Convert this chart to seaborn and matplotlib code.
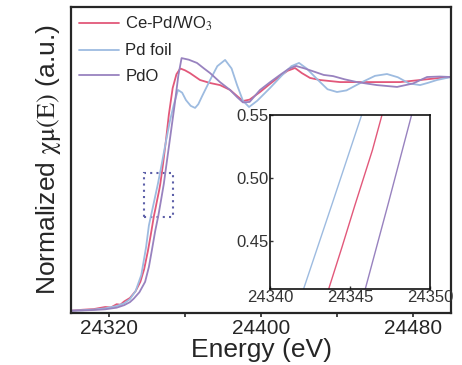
import matplotlib
matplotlib.use("Agg")
import matplotlib.pyplot as plt
import seaborn as sns
import pandas as pd
from matplotlib.patches import Rectangle

# readings from the reference (energy in eV, normalized absorption)
e_cepd = [24300, 24306, 24312, 24318, 24321, 24324, 24326, 24328, 24331, 24334,
          24336.5, 24338.5, 24340.5, 24342, 24343.65, 24344.5, 24345.3, 24345.9,
          24346.4, 24347.0, 24348.5, 24350, 24351.5, 24353.5, 24355.5, 24357.5,
          24360, 24362.6, 24367.9, 24373.2, 24378.4, 24383.7, 24387.5, 24390.5,
          24394, 24399.5, 24405, 24410, 24414, 24417.9, 24421.5, 24425.8, 24431,
          24441.6, 24452.1, 24462.6, 24473.2, 24483.7, 24494.2, 24500]
mu_cepd = [0.000, 0.004, 0.007, 0.016, 0.014, 0.028, 0.026, 0.040, 0.055, 0.085,
           0.125, 0.180, 0.260, 0.330, 0.411, 0.445, 0.478, 0.502,
           0.522, 0.550, 0.640, 0.740, 0.850, 0.965, 1.025, 1.050,
           1.042, 1.030, 1.000, 0.987, 0.978, 0.957, 0.930, 0.909,
           0.915, 0.948, 0.985, 1.017, 1.040, 1.052, 1.030, 1.009, 1.000,
           0.991, 0.991, 0.991, 0.991, 1.000, 1.009, 1.013]

e_foil = [24300, 24306, 24312, 24318, 24324, 24328, 24331, 24334, 24337, 24339.5,
          24341.0, 24342.08, 24343.9, 24345.73, 24347.5, 24350, 24352, 24354, 24356.3,
          24358.5, 24360.5, 24363, 24365.3, 24367, 24369, 24373.2, 24377, 24381.1,
          24384.5, 24387.4, 24390.5, 24393.7, 24398, 24404.7, 24411, 24416, 24420,
          24424, 24430, 24435, 24440, 24445, 24453.2, 24460, 24466.3, 24472, 24478,
          24483.7, 24488, 24492.6, 24500]
mu_foil = [0.000, 0.002, 0.005, 0.010, 0.020, 0.032, 0.050, 0.085, 0.155, 0.275,
           0.370, 0.411, 0.480, 0.550, 0.625, 0.735, 0.820, 0.890, 0.957,
           0.945, 0.913, 0.888, 0.879, 0.895, 0.930, 1.000, 1.060, 1.087,
           1.050, 0.978, 0.910, 0.883, 0.910, 0.965, 1.020, 1.060, 1.074,
           1.050, 1.000, 0.960, 0.948, 0.955, 0.991, 1.018, 1.026, 1.012, 0.985,
           0.978, 0.988, 1.000, 1.013]

e_pdo = [24300, 24306, 24312, 24318, 24324, 24328, 24331, 24333, 24336, 24339,
         24341, 24342.6, 24344.3, 24345.94, 24347.4, 24348.85, 24350.5, 24352.5,
         24354.5, 24356.5, 24358.2, 24362, 24366.3, 24370, 24373.2, 24378.4, 24383.7,
         24387.5, 24390.5, 24394, 24399.5, 24405, 24410, 24414.5, 24418.4, 24423,
         24428.4, 24433, 24437.9, 24444, 24450.5, 24461, 24471.6, 24480, 24487.4,
         24494, 24500]
mu_pdo = [0.000, 0.001, 0.003, 0.006, 0.013, 0.024, 0.037, 0.052, 0.080, 0.125,
          0.190, 0.264, 0.345, 0.411, 0.480, 0.550, 0.650, 0.770,
          0.890, 1.020, 1.095, 1.088, 1.074, 1.050, 1.030, 0.991, 0.957,
          0.925, 0.903, 0.905, 0.957, 0.992, 1.022, 1.048, 1.061, 1.050,
          1.035, 1.022, 1.017, 1.003, 0.991, 0.978, 0.970, 0.985, 1.013,
          1.015, 1.013]

samples = ["Ce-Pd/WO$_3$", "Pd foil", "PdO"]
colors = {"Ce-Pd/WO$_3$": "#e2587a", "Pd foil": "#9dbbe0", "PdO": "#9882bf"}

# zoom window marked on the main plot
box_e = (24338.4, 24353.7)
box_mu = (0.407, 0.597)

frames = []
for name, e, mu in zip(samples, [e_cepd, e_foil, e_pdo], [mu_cepd, mu_foil, mu_pdo]):
    frames.append(pd.DataFrame({"energy": e, "mu": mu, "sample": name}))
df = pd.concat(frames, ignore_index=True)

sns.set_style("ticks")
plt.rcParams["font.family"] = ["Liberation Sans", "DejaVu Sans"]
plt.rcParams["mathtext.fontset"] = "stix"

fig = plt.figure(figsize=(4.62, 3.65), dpi=100)
ax = fig.add_axes([0.1537, 0.1425, 0.8225, 0.838])

sns.lineplot(data=df, x="energy", y="mu", hue="sample", palette=colors,
             estimator=None, sort=False, lw=1.3, ax=ax)
ax.set_xlim(24300, 24500)
ax.set_ylim(-0.01, 1.316)
ax.set_xticks([24320, 24400, 24480])
ax.set_xticks([24360, 24440], minor=True)
ax.set_yticks([])
ax.tick_params(axis="x", which="both", direction="out", length=3, width=1.2,
               labelsize=15, pad=1)
for s in ax.spines.values():
    s.set_linewidth(1.6)
ax.set_xlabel("Energy (eV)", fontsize=19, labelpad=0)
ax.set_ylabel(r"Normalized $\mathrm{\chi\mu(E)}$ (a.u.)", fontsize=19, labelpad=6)

ax.add_patch(Rectangle((box_e[0], box_mu[0]), box_e[1] - box_e[0], box_mu[1] - box_mu[0],
                       fill=False, ec="#5c5fa8", lw=1.5, ls=(0, (1, 2))))

handles, labels = ax.get_legend_handles_labels()
ax.legend(handles, labels, loc="upper left", bbox_to_anchor=(0.0, 1.0), frameon=False,
          fontsize=12, handlelength=2.4, handletextpad=0.4, labelspacing=0.62,
          borderaxespad=0.0, borderpad=0.45)

# inset
axin = fig.add_axes([0.5844, 0.2082, 0.3463, 0.4767])
sns.lineplot(data=df, x="energy", y="mu", hue="sample", palette=colors,
             estimator=None, sort=False, lw=1.0, ax=axin, legend=False)
axin.set_xlim(24340, 24350)
axin.set_ylim(0.4117, 0.55)
axin.set_xticks([24340, 24345, 24350])
axin.set_yticks([0.45, 0.50, 0.55])
axin.set_yticklabels(["0.45", "0.50", "0.55"])
axin.set_xlabel("")
axin.set_ylabel("")
axin.tick_params(direction="in", length=2, width=1, labelsize=12, colors="#333333", pad=1)
for s in axin.spines.values():
    s.set_linewidth(1.2)
    s.set_color("#111111")

fig.savefig("out.png", dpi=100)
